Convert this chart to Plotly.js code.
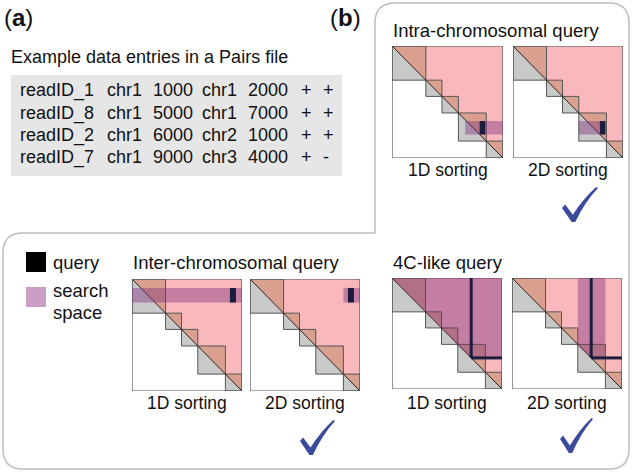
<!DOCTYPE html>
<html>
<head>
<meta charset="utf-8">
<script src="https://cdn.plot.ly/plotly-3.0.1.min.js"></script>
<style>html,body{margin:0;padding:0;background:#fff;}#chart{width:634px;height:473px;}</style>
</head>
<body>
<div id="chart"></div>
<script>
// ---- data ----
const readIDs = ['readID_1', 'readID_8', 'readID_2', 'readID_7'];
const chrom1 = ['chr1', 'chr1', 'chr1', 'chr1'];
const pos1 = [1000, 5000, 6000, 9000];
const chrom2 = ['chr1', 'chr1', 'chr2', 'chr3'];
const pos2 = [2000, 7000, 1000, 4000];
const strand1 = ['+', '+', '+', '+'];
const strand2 = ['+', '+', '+', '-'];

// chromosome boundaries along the contact matrix (fraction of genome)
const chromBounds = [0, 0.305, 0.45, 0.598, 0.849, 1];

// queries and search spaces (fraction of genome)
const intraQueryX = [0.79, 0.84];
const intraQueryY = [0.67, 0.79];
const intraSearch1DX = [0.66, 1];
const intraSearch2DX = [0.6, 0.84];

const interQueryX = [0.89, 0.945];
const interQueryY = [0.08, 0.21];
const interSearch1DX = [0, 1];
const interSearch2DX = [0.849, 1];

const fourCAnchor = 0.72;
const fourCSearch2DX = [0.598, 0.849];

const sortLabels = ['1D sorting', '2D sorting'];
const panelTitles = ['Intra-chromosomal query', 'Inter-chromosomal query', '4C-like query'];

// ---- styles / layout helpers ----
const W = 634, H = 473;
const C = {
  pink: '#f9b8bc', orange: '#d9a08f', grey: '#c9c9c9', edge: '#555555',
  search: 'rgba(125,45,125,0.42)', query: '#1c1c3c', check: '#3b4a9c',
  frame: '#bdbdbd', tableBg: '#e6e6e6', text: '#111111'
};
const FONT = 'Liberation Sans, Arial, sans-serif';

// matrix boxes in pixels: [left, top, width, height]
const boxes = [
  [392, 46, 111, 112],  // intra 1D
  [513, 46, 110, 112],  // intra 2D
  [132, 279, 110, 112], // inter 1D
  [250, 279, 110, 112], // inter 2D
  [392, 278, 110, 111], // 4C 1D
  [512, 278, 110, 111]  // 4C 2D
];

const layout = {
  width: W, height: H,
  margin: {l: 0, r: 0, t: 0, b: 0},
  paper_bgcolor: '#fff', plot_bgcolor: 'rgba(0,0,0,0)',
  showlegend: false,
  xaxis: {range: [0, W], domain: [0, 1], visible: false, fixedrange: true},
  yaxis: {range: [H, 0], domain: [0, 1], visible: false, fixedrange: true},
  shapes: [], annotations: []
};
const traces = [{x: [], y: [], type: 'scatter', xaxis: 'x', yaxis: 'y', hoverinfo: 'skip'}];

boxes.forEach((b, i) => {
  const n = i + 2;
  layout['xaxis' + n] = {range: [0, 1], domain: [b[0] / W, (b[0] + b[2]) / W], anchor: 'y' + n, visible: false, fixedrange: true};
  layout['yaxis' + n] = {range: [1, 0], domain: [1 - (b[1] + b[3]) / H, 1 - b[1] / H], anchor: 'x' + n, visible: false, fixedrange: true};
  traces.push({x: [], y: [], type: 'scatter', xaxis: 'x' + n, yaxis: 'y' + n, hoverinfo: 'skip'});
});

const S = layout.shapes, A = layout.annotations;

function matrix(n) {
  const xr = 'x' + n, yr = 'y' + n;
  S.push({type: 'path', xref: xr, yref: yr, path: 'M0,0 L1,0 L1,1 Z', fillcolor: C.pink, line: {width: 0}});
  for (let k = 0; k < chromBounds.length - 1; k++) {
    const a = chromBounds[k], b = chromBounds[k + 1];
    S.push({type: 'path', xref: xr, yref: yr, path: `M${a},${a} L${a},${b} L${b},${b} Z`, fillcolor: C.grey, line: {width: 0}});
    S.push({type: 'path', xref: xr, yref: yr, path: `M${a},${a} L${b},${a} L${b},${b} Z`, fillcolor: C.orange, line: {width: 0}});
  }
  for (let k = 0; k < chromBounds.length - 1; k++) {
    const a = chromBounds[k], b = chromBounds[k + 1];
    S.push({type: 'rect', xref: xr, yref: yr, x0: a, x1: b, y0: a, y1: b, line: {color: C.edge, width: 1}});
  }
  S.push({type: 'line', xref: xr, yref: yr, x0: 0, y0: 0, x1: 1, y1: 1, line: {color: '#222', width: 1}});
  S.push({type: 'rect', xref: xr, yref: yr, x0: 0, x1: 1, y0: 0, y1: 1, line: {color: C.edge, width: 1.2}});
}
function rect(n, xs, ys, color) {
  S.push({type: 'rect', xref: 'x' + n, yref: 'y' + n, x0: xs[0], x1: xs[1], y0: ys[0], y1: ys[1], fillcolor: color, line: {width: 0}});
}
function poly(n, pts, color) {
  S.push({type: 'path', xref: 'x' + n, yref: 'y' + n, path: 'M' + pts.map(p => p[0] + ',' + p[1]).join(' L') + ' Z', fillcolor: color, line: {width: 0}});
}
function seg(n, x0, y0, x1, y1) {
  S.push({type: 'line', xref: 'x' + n, yref: 'y' + n, x0, y0, x1, y1, line: {color: C.query, width: 3}});
}

for (let n = 2; n <= 7; n++) matrix(n);

// intra
rect(2, intraSearch1DX, intraQueryY, C.search); rect(2, intraQueryX, intraQueryY, C.query);
rect(3, intraSearch2DX, intraQueryY, C.search); rect(3, intraQueryX, intraQueryY, C.query);
// inter
rect(4, interSearch1DX, interQueryY, C.search); rect(4, interQueryX, interQueryY, C.query);
rect(5, interSearch2DX, interQueryY, C.search); rect(5, interQueryX, interQueryY, C.query);
// 4C-like
poly(6, [[0, 0], [1, 0], [1, fourCAnchor], [fourCAnchor, fourCAnchor]], C.search);
poly(7, [[fourCSearch2DX[0], 0], [fourCSearch2DX[1], 0], [fourCSearch2DX[1], fourCAnchor], [fourCAnchor, fourCAnchor], [fourCSearch2DX[0], fourCSearch2DX[0]]], C.search);
[6, 7].forEach(n => { seg(n, fourCAnchor, 0, fourCAnchor, fourCAnchor); seg(n, fourCAnchor, fourCAnchor, 1, fourCAnchor); });

// frame
S.push({type: 'path', xref: 'x', yref: 'y', layer: 'below',
  path: 'M375,233 L375,23 Q375,3 395,3 L609,3 Q629,3 629,23 L629,449 Q629,469 609,469 L23,469 Q3,469 3,449 L3,253 Q3,233 23,233 Z',
  line: {color: C.frame, width: 1.5}, fillcolor: 'rgba(0,0,0,0)'});

// table background
S.push({type: 'rect', xref: 'x', yref: 'y', layer: 'below', x0: 11, x1: 342, y0: 75, y1: 176, fillcolor: C.tableBg, line: {width: 0}});

// legend swatches
S.push({type: 'rect', xref: 'x', yref: 'y', x0: 26, x1: 46, y0: 252, y1: 272, fillcolor: '#000', line: {width: 0}});
S.push({type: 'rect', xref: 'x', yref: 'y', x0: 26, x1: 46, y0: 287, y1: 307, fillcolor: '#c9a0c3', line: {width: 0}});

// check marks
function check(x, y, w, h) {
  const P = (u, v) => (x + u * w).toFixed(1) + ',' + (y + v * h).toFixed(1);
  S.push({type: 'path', xref: 'x', yref: 'y', fillcolor: C.check, line: {width: 0},
    path: `M${P(0, 0.6)} L${P(0.09, 0.5)} L${P(0.3, 0.79)} Q${P(0.6, 0.32)} ${P(0.95, 0)} L${P(1, 0.03)} Q${P(0.64, 0.42)} ${P(0.37, 1)} L${P(0.27, 1)} Z`});
}
check(562, 187, 36, 35);
check(300, 420, 35, 35);
check(560, 418, 33, 35);

// text
function txt(x, y, t, size, anchor) {
  A.push({xref: 'x', yref: 'y', x, y, text: t, showarrow: false, xanchor: anchor || 'left', yanchor: 'middle',
    font: {family: FONT, size, color: C.text}});
}
txt(2, 17, '(<b>a</b>)', 24);
txt(328, 17, '(<b>b</b>)', 24);
txt(9, 57, 'Example data entries in a Pairs file', 18);

const colX = [18, 105, 151, 200, 246, 299, 321];
const rowY = [90, 113, 135, 157];
readIDs.forEach((r, i) => {
  const vals = [r, chrom1[i], String(pos1[i]), chrom2[i], String(pos2[i]), strand1[i], strand2[i]];
  vals.forEach((v, j) => txt(colX[j], rowY[i], v, 18));
});

txt(391, 30, panelTitles[0], 18.5);
txt(131, 262, panelTitles[1], 18.5);
txt(391, 262, panelTitles[2], 18.5);

const labelY = [170, 170, 403, 403, 403, 403];
boxes.forEach((b, i) => txt(b[0] + b[2] / 2, labelY[i], sortLabels[i % 2], 17.5, 'center'));

txt(51, 262, 'query', 18.5);
txt(51, 290, 'search', 18.5);
txt(51, 312, 'space', 18.5);

Plotly.newPlot('chart', traces, layout, {staticPlot: true, displayModeBar: false});
</script>
</body>
</html>
